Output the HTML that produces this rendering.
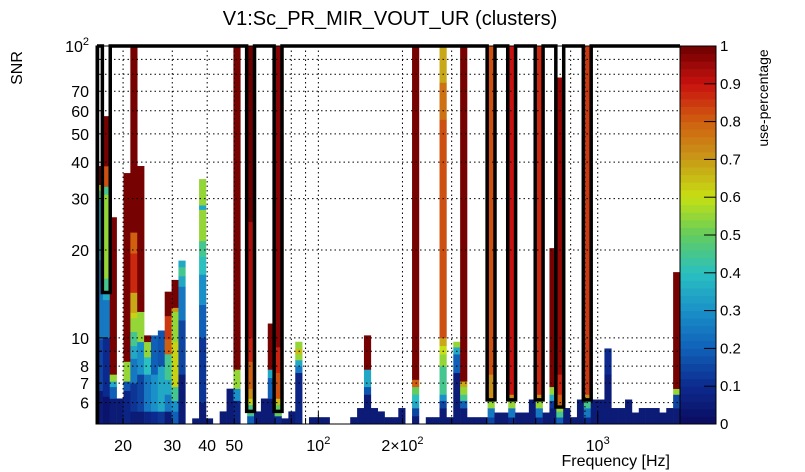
<!DOCTYPE html>
<html><head><meta charset="utf-8"><style>
html,body{margin:0;padding:0;background:#fff;}
svg{display:block;font-family:"Liberation Sans",sans-serif;}
</style></head><body>
<svg id="chart" width="805" height="472" viewBox="0 0 805 472">
<text x="390" y="25" text-anchor="middle" font-size="20">V1:Sc_PR_MIR_VOUT_UR (clusters)</text>
<text transform="translate(22,68) rotate(-90)" text-anchor="middle" font-size="16">SNR</text>
<text x="670" y="466" text-anchor="end" font-size="16">Frequency [Hz]</text>
<text transform="translate(768,98) rotate(-90)" text-anchor="middle" font-size="14">use-percentage</text>
<g id="cells"></g>
<g id="grid"></g>
<g id="outline"></g>
<g id="axes"></g>
<g id="cbar"></g>
</svg>
<script>
// ---- data ----
const xMin = 16, xMax = 1970, yMin = 5.07, yMax = 100, nBins = 85;
const binIndex = [0,1,2,3,4,5,6,7,8,9,10,11,12,14,15,16,18,19,20,22,23,24,25,26,27,28,29,31,32,33,37,38,39,40,41,42,43,44,46,48,49,50,51,52,53,54,55,56,57,58,59,60,61,62,63,64,65,66,67,68,69,70,71,72,73,74,75,76,77,78,79,80,81,82,83,84];
const binSegments = [
 [[6.6,0.05],[9.9,0.15],[18.5,0.25],[29.7,0.35],[32,0.45],[33.5,0.6],[38.8,0.99]],
 [[6.3,0.03],[10,0.1],[13.5,0.25],[14.5,0.35],[16,0.45],[31,0.55],[33,0.45],[38.8,0.82],[57.5,0.99]],
 [[6.2,0.05],[6.8,0.2],[7.1,0.35],[7.5,0.55],[25.9,0.99]],
 [[6.2,0.05]],
 [[6.6,0.08],[7.1,0.18],[8.3,0.55],[36.7,0.99]],
 [[5.6,0.05],[7.0,0.12],[8.5,0.25],[9.4,0.35],[10.5,0.45],[11.7,0.55],[12.2,0.62],[14.3,0.68],[19.5,0.87],[23,0.8],[100,0.99]],
 [[5.6,0.05],[7.5,0.15],[9.7,0.3],[12.3,0.55],[38.8,0.99]],
 [[5.6,0.08],[7.5,0.25],[8.6,0.4],[9.7,0.55],[10.2,0.99]],
 [[5.6,0.1],[7.5,0.3],[10.2,0.2]],
 [[5.6,0.12],[8,0.35],[10.6,0.18]],
 [[5.6,0.05],[6.4,0.25],[7.2,0.35],[8.8,0.45],[9.9,0.8],[11.9,0.85],[14.4,0.99]],
 [[5.6,0.2],[6.1,0.3],[6.8,0.45],[9.7,0.62],[12.3,0.55],[12.7,0.7],[15.8,0.99]],
 [[7.5,0.05],[11.5,0.15],[15,0.25],[16.3,0.35],[17.5,0.45],[18.4,0.35]],
 [[5.3,0.05]],
 [[6.0,0.05],[10,0.12],[13,0.2],[16.5,0.3],[19,0.4],[21.5,0.45],[27.5,0.55],[28.5,0.35],[35,0.55]],
 [[5.3,0.05]],
 [[5.6,0.05]],
 [[6.7,0.05]],
 [[6.1,0.08],[6.7,0.3],[7.8,0.55],[100,0.99]],
 [[5.4,0.2],[5.9,0.45],[6.2,0.62],[6.7,0.72],[8.3,0.8],[10,0.88],[25,0.93],[100,1.0]],
 [[5.6,0.05]],
 [[6.2,0.05]],
 [[6.2,0.05],[7.3,0.2],[7.8,0.35],[11.2,0.99]],
 [[5.4,0.1],[5.9,0.5],[6.2,0.65],[7.6,0.82],[9.3,0.88],[100,0.97]],
 [[5.3,0.05]],
 [[5.6,0.05]],
 [[7.6,0.08],[8.0,0.25],[8.4,0.35],[8.8,0.55],[9.2,0.65],[9.7,0.55]],
 [[5.35,0.05]],[[5.35,0.05]],[[5.35,0.05]],
 [[5.35,0.05]],
 [[5.75,0.05]],
 [[6.4,0.05],[6.8,0.18],[7.8,0.35],[10.2,0.99]],
 [[5.75,0.05]],
 [[5.6,0.05]],
 [[5.35,0.05]],[[5.35,0.05]],
 [[5.75,0.05]],
 [[5.4,0.05],[5.75,0.15],[6.1,0.35],[6.4,0.4],[6.8,0.5],[7.2,0.8],[100,0.99]],
 [[5.35,0.05]],[[5.35,0.05]],
 [[5.75,0.05],[6.1,0.15],[6.4,0.3],[8,0.45],[8.8,0.55],[9.4,0.6],[10,0.68],[56,0.82],[75,0.77],[100,0.68]],
 [[5.35,0.05]],
 [[7.6,0.05],[8.8,0.2],[9.3,0.35],[9.7,0.55]],
 [[5.75,0.05],[6.1,0.2],[6.4,0.45],[6.8,0.55],[7.1,0.68],[100,0.99]],
 [[5.35,0.05]],[[5.35,0.05]],[[5.35,0.05]],
 [[5.35,0.15],[5.75,0.25],[6.1,0.55],[7.5,0.72],[100,0.82]],
 [[5.55,0.05]],[[5.55,0.05]],
 [[5.35,0.1],[5.75,0.25],[6.1,0.55],[6.4,0.72],[100,0.9]],
 [[5.55,0.05]],[[5.55,0.05]],
 [[6.15,0.05]],
 [[5.35,0.1],[5.75,0.25],[6.1,0.55],[6.4,0.72],[100,0.87]],
 [[5.55,0.05]],
 [[5.75,0.05],[6.1,0.12],[6.4,0.35],[6.8,0.55],[20.3,0.99]],
 [[5.35,0.2],[5.6,0.45],[5.9,0.55],[6.4,0.8],[7.5,0.88],[78,0.96]],
 [[5.75,0.05]],
 [[5.35,0.05]],
 [[6.15,0.05]],
 [[5.35,0.1],[5.75,0.25],[6.1,0.45],[6.4,0.72],[100,0.85]],
 [[6.15,0.05]],
 [[6.15,0.05]],
 [[7.5,0.05],[9.2,0.1]],
 [[5.75,0.05]],[[5.75,0.05]],
 [[6.15,0.05]],
 [[5.55,0.05]],
 [[5.75,0.05]],[[5.75,0.05]],[[5.75,0.05]],
 [[5.55,0.05]],
 [[5.75,0.05]],
 [[5.75,0.05],[6.4,0.15],[6.7,0.55],[16.8,0.99]]
];
const clusterBins = [1,22,26,57,60,64,67,71];
const clusterLow = [14.3,5.6,5.6,6.13,6.13,6.13,5.8,6.13];
const yTickLabels = ["6","7","8","10","20","30","40","50","60","70"];
const yTickValues = [6,7,8,10,20,30,40,50,60,70];
const xTickLabels = ["20","30","40","50"];
const xTickValues = [20,30,40,50];
const cbTicks = [0,0.1,0.2,0.3,0.4,0.5,0.6,0.7,0.8,0.9,1];
const cmapStops = ["#0b0b5e","#0c2a8e","#1060b8","#1a90c8","#2ac0c0","#62cc5e","#c6e012","#c89a18","#d06010","#c81210","#6e0000"];

// ---- scales ----
const L=96,R=680,T=46,B=424;
const lx0=Math.log10(xMin), lx1=Math.log10(xMax), ly0=Math.log10(yMin), ly1=Math.log10(yMax);
function X(f){return L+(Math.log10(f)-lx0)/(lx1-lx0)*(R-L);}
function Y(s){return B-(Math.log10(s)-ly0)/(ly1-ly0)*(B-T);}
function binLeft(k){return L+k*(R-L)/nBins;}
function color(v){v=Math.max(0,Math.min(1,v));const p=v*10,i=Math.min(9,Math.floor(p)),t=p-i;
 const a=cmapStops[i],b=cmapStops[i+1];const h=(s,o)=>parseInt(s.substr(o,2),16);
 const c=[1,3,5].map(o=>Math.round(h(a,o)+(h(b,o)-h(a,o))*t));return `rgb(${c.join(',')})`;}
const NS="http://www.w3.org/2000/svg";
function mk(tag,attrs,parent){const e=document.createElementNS(NS,tag);for(const k in attrs)e.setAttribute(k,attrs[k]);parent.appendChild(e);return e;}

// ---- cells ----
const cells=document.getElementById('cells');
binIndex.forEach((k,i)=>{let lo=yMin;const x0=binLeft(k),x1=binLeft(k+1);
 binSegments[i].forEach(sg=>{const top=Math.min(sg[0],yMax);
  const r=mk('rect',{x:x0,y:Y(top),width:x1-x0+0.3,height:Y(lo)-Y(top)+0.3,fill:color(sg[1])},cells);
  
  
  lo=top;});});

// ---- grid ----
const grid=document.getElementById('grid');
const gx=[20,30,40,50,80,90,100,200,300,800,900,1000], gy=[6,7,8,9,10,20,30,40,50,60,70,80,90];
gx.forEach(f=>{const l=mk('line',{x1:X(f),x2:X(f),y1:T,y2:B,stroke:'#000','stroke-width':1,'stroke-dasharray':'1.5,3'},grid);
 });
gy.forEach(s=>{const l=mk('line',{x1:L,x2:R,y1:Y(s),y2:Y(s),stroke:'#000','stroke-width':1,'stroke-dasharray':'1.5,3'},grid);
 });

// ---- cluster outline ----
const ol=document.getElementById('outline');
let d=`M${L+1},${T}`;
clusterBins.forEach((k,i)=>{const a=binLeft(k)-0.5,b=binLeft(k+1)+0.5,yb=Y(clusterLow[i]);
 d+=` L${a},${T} L${a},${yb} L${b},${yb} L${b},${T}`;});
d+=` L${R},${T}`;
const op=mk('path',{d:d,fill:'none',stroke:'#000','stroke-width':3.5,'stroke-linejoin':'miter'},ol);


const lb=mk('line',{x1:L+1.5,x2:L+1.5,y1:T,y2:B,stroke:'#000','stroke-width':3.5},ol);



// ---- axes ----
const ax=document.getElementById('axes');
mk('rect',{x:L,y:T,width:R-L,height:B-T,fill:'none',stroke:'#000','stroke-width':1},ax);
for(let m=6;m<=100;m+=(m<10?1:10)){const major=[10,100].includes(m);const len=major?12:6;
 mk('line',{x1:L,x2:L+len,y1:Y(m),y2:Y(m),stroke:'#000'},ax);}
for(let m=5.5;m<10;m+=0.5){mk('line',{x1:L,x2:L+3,y1:Y(m),y2:Y(m),stroke:'#000'},ax);}
[20,30,40,50,60,70,80,90,100,200,300,400,500,600,700,800,900,1000].forEach(f=>{const major=(f===100||f===1000);
 mk('line',{x1:X(f),x2:X(f),y1:B,y2:B-(major?12:6),stroke:'#000'},ax);});
yTickValues.forEach((v,i)=>{const t=mk('text',{x:89,y:Y(v)+6,'text-anchor':'end','font-size':16},ax);t.textContent=yTickLabels[i];
 });
const y100=mk('text',{x:89,y:Y(100)+6,'text-anchor':'end','font-size':16},ax);
y100.innerHTML='10<tspan dy="-7" font-size="11">2</tspan>';

xTickValues.forEach((v,i)=>{const t=mk('text',{x:X(v),y:451,'text-anchor':'middle','font-size':16},ax);t.textContent=xTickLabels[i];
 });
[[100,'10<tspan dy="-7" font-size="11">2</tspan>'],[200,'2×10<tspan dy="-7" font-size="11">2</tspan>'],[1000,'10<tspan dy="-7" font-size="11">3</tspan>']].forEach(p=>{
 const t=mk('text',{x:X(p[0]),y:451,'text-anchor':'middle','font-size':16},ax);t.innerHTML=p[1];
 });

// ---- colorbar ----
const cb=document.getElementById('cbar');
const CL=680,CR=716;
for(let i=0;i<50;i++){const v0=i/50,v1=(i+1)/50;const y0=B-v1*(B-T),y1=B-v0*(B-T);
 mk('rect',{x:CL,y:y0,width:CR-CL,height:y1-y0+0.5,fill:color((v0+v1)/2)},cb);}
mk('rect',{x:CL,y:T,width:CR-CL,height:B-T,fill:'none',stroke:'#000'},cb);
cbTicks.forEach(v=>{const y=B-v*(B-T);mk('line',{x1:CR-12,x2:CR,y1:y,y2:y,stroke:'#000'},cb);
 const t=mk('text',{x:720,y:y+5,'font-size':15},cb);t.textContent=String(v);
 });
</script>
</body></html>
